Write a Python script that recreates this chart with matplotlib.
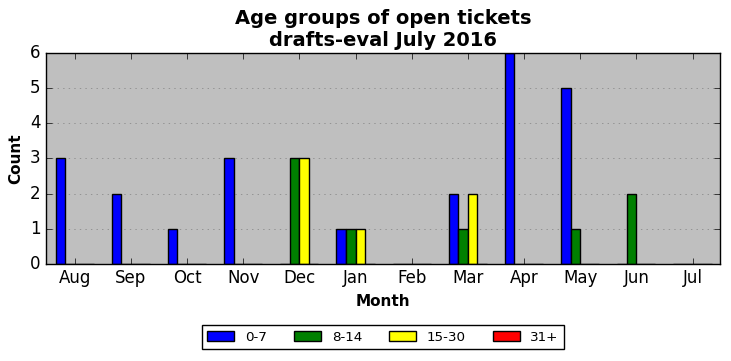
import numpy as np
import matplotlib

matplotlib.use("Agg")
import matplotlib.pyplot as plt

# ---------------------------------------------------------------------
# data
# ---------------------------------------------------------------------

months = ["Aug", "Sep", "Oct", "Nov", "Dec", "Jan",
          "Feb", "Mar", "Apr", "May", "Jun", "Jul"]
age_0_7 = [3, 2, 1, 3, 0, 1, 0, 2, 6, 5, 0, 0]
age_8_14 = [0, 0, 0, 0, 3, 1, 0, 1, 0, 1, 2, 0]
age_15_30 = [0, 0, 0, 0, 3, 1, 0, 2, 0, 0, 0, 0]
age_31_plus = [0, 0, 0, 0, 0, 0, 0, 0, 0, 0, 0, 0]

groups = [("0-7", age_0_7, "blue"),
          ("8-14", age_8_14, "green"),
          ("15-30", age_15_30, "yellow"),
          ("31+", age_31_plus, "red")]

# ---------------------------------------------------------------------
# plot
# ---------------------------------------------------------------------

plt.style.use("classic")

fig = plt.figure(figsize=(7.31, 3.61), dpi=100)
ax = fig.add_axes([0.063, 0.269, 0.922, 0.584])
ax.set_facecolor("#bfbfbf")

ind = np.arange(len(months))
width = 0.17

for i, (label, values, color) in enumerate(groups):
    ax.bar(ind + i * width, values, width, color=color, label=label,
           align="edge", edgecolor="black", linewidth=1)

ax.set_xticks(ind + 2 * width)
ax.set_xticklabels(months)
ax.set_xlim(-width, len(months) - width)
ax.set_ylim(0, 6)
ax.set_yticks(range(0, 7))

ax.yaxis.grid(True, linestyle=":", color="gray")
ax.xaxis.grid(False)
ax.set_axisbelow(True)

ax.set_xlabel("Month", fontweight="bold", fontsize=11)
ax.set_ylabel("Count", fontweight="bold", fontsize=11)
ax.set_title("Age groups of open tickets\ndrafts-eval July 2016",
             fontweight="bold", fontsize=14)

ax.legend(loc="upper center", bbox_to_anchor=(0.5, -0.26), ncol=4,
          fontsize=9.7, fancybox=False)

fig.savefig("out.png", dpi=100)
